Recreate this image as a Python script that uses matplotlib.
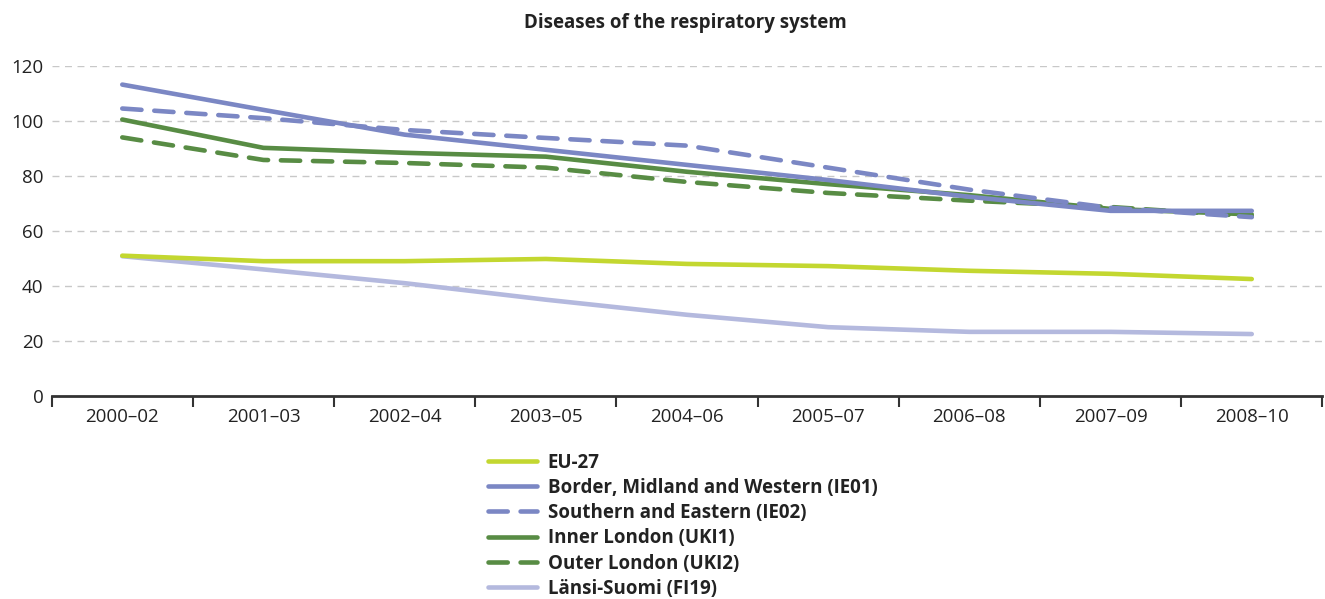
import matplotlib
matplotlib.use("Agg")
from matplotlib import pyplot as plt
import numpy as np

plt.rcParams['font.family'] = ['Open Sans', 'DejaVu Sans']

periods = ['2000–02', '2001–03', '2002–04', '2003–05', '2004–06',
           '2005–07', '2006–08', '2007–09', '2008–10']

eu27 = [51.0, 49.0, 49.0, 49.8, 48.0, 47.2, 45.5, 44.4, 42.5]
ie01 = [113.2, 104.0, 95.0, 89.5, 84.0, 78.5, 72.4, 67.3, 67.3]
ie02 = [104.5, 101.0, 96.7, 93.8, 91.0, 83.0, 75.0, 68.4, 65.0]
uki1 = [100.5, 90.2, 88.4, 87.0, 81.5, 77.0, 73.0, 68.0, 66.0]
uki2 = [94.0, 85.8, 84.7, 83.0, 77.8, 73.8, 71.0, 68.7, 65.3]
fi19 = [50.8, 46.0, 41.0, 35.0, 29.5, 25.0, 23.3, 23.3, 22.5]

series = [
    ('EU-27', eu27, '#c3d730', '-'),
    ('Border, Midland and Western (IE01)', ie01, '#7b87c4', '-'),
    ('Southern and Eastern (IE02)', ie02, '#7b87c4', '--'),
    ('Inner London (UKI1)', uki1, '#588c44', '-'),
    ('Outer London (UKI2)', uki2, '#588c44', '--'),
    ('Länsi-Suomi (FI19)', fi19, '#b4b9de', '-'),
]

fig = plt.figure(figsize=(13.25, 5.99), dpi=100)
ax = fig.add_axes([0.039, 0.339, 0.959, 0.551])

x = np.arange(len(periods))
# draw in an order so that the lighter lines sit underneath
order = [5, 0, 4, 3, 2, 1]
handles = {}
for i in order:
    label, vals, color, ls = series[i]
    line, = ax.plot(x, vals, color=color, lw=3.3, solid_capstyle='round',
                    dash_capstyle='round', label=label)
    if ls == '--':
        line.set_dashes((4.2, 2.8))
    handles[i] = line

ax.set_xlim(-0.5, len(periods) - 0.5)
ax.set_ylim(0, 120)
ax.set_yticks(range(0, 121, 20))
ax.set_xticks(x)
ax.set_xticklabels(periods)
ax.set_xticks(np.arange(-0.5, len(periods), 1.0), minor=True)
ax.tick_params(axis='x', which='major', length=0, pad=9, labelsize=13.5, colors='#222222')
ax.tick_params(axis='x', which='minor', length=8, width=1.5, color='#333333', direction='out')
ax.tick_params(axis='y', length=0, pad=6, labelsize=13.5, colors='#222222')

ax.yaxis.grid(True, color='#c8c8c8', ls=(0, (5, 4)), lw=1)
ax.set_axisbelow(True)
for s in ['left', 'right', 'top']:
    ax.spines[s].set_visible(False)
ax.spines['bottom'].set_color('#333333')
ax.spines['bottom'].set_linewidth(2)

fig.text(0.517, 0.962, 'Diseases of the respiratory system', ha='center', va='center',
         fontsize=13.5, fontweight='bold', color='#222222')

leg = fig.legend([handles[i] for i in range(6)], [s[0] for s in series],
                 loc='upper left', bbox_to_anchor=(0.363, 0.257), frameon=False,
                 handlelength=2.6, handletextpad=0.55, labelspacing=0.28,
                 prop={'weight': 'bold', 'size': 13.5}, borderaxespad=0)
for t in leg.get_texts():
    t.set_color('#222222')

fig.savefig('out.png', dpi=100)
